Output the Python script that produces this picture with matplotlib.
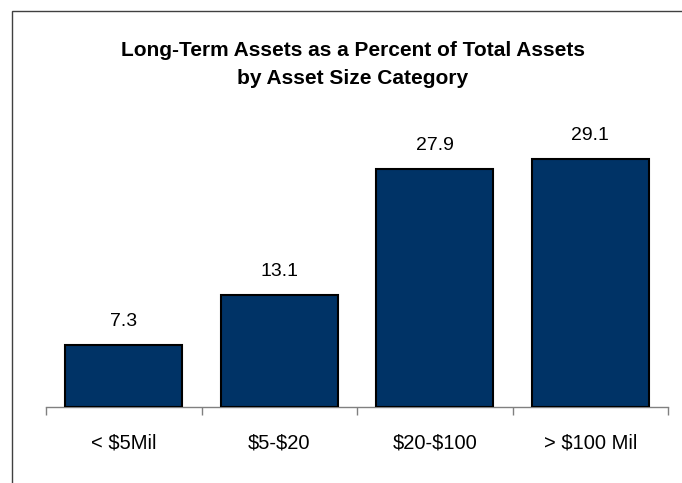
import matplotlib.pyplot as plt
from matplotlib.patches import Rectangle

plt.rcParams['font.family'] = ['Liberation Sans', 'DejaVu Sans']

categories = ['< \\$5Mil', '\\$5-\\$20', '\\$20-\\$100', '> \\$100 Mil']
values = [7.3, 13.1, 27.9, 29.1]

fig = plt.figure(figsize=(6.82, 4.83), dpi=100)
ax = fig.add_axes([46 / 682, 1 - 407 / 483, 622 / 682, 298 / 483])

x = list(range(len(categories)))
ax.bar(x, values, width=0.75, color='#003366', edgecolor='black', linewidth=1.5, zorder=3)

for xi, v in zip(x, values):
    ax.annotate(f'{v:.1f}', (xi, v), xytext=(0, 11), textcoords='offset points',
                ha='center', va='bottom', fontsize=14)

ax.set_xlim(-0.5, len(categories) - 0.5)
ax.set_ylim(0, 35)

# ticks at category boundaries, labels centred
ax.set_xticks([i - 0.5 for i in range(len(categories) + 1)])
ax.set_xticklabels([])
ax.set_xticks(x, minor=True)
ax.set_xticklabels(categories, minor=True, fontsize=14.5)
ax.tick_params(axis='x', which='major', direction='out', length=6, color='#808080', width=1)
ax.tick_params(axis='x', which='minor', length=0, pad=19)
ax.set_yticks([])

for s in ['top', 'right', 'left']:
    ax.spines[s].set_visible(False)
ax.spines['bottom'].set_color('#808080')
ax.spines['bottom'].set_linewidth(1)

fig.text(353 / 682, 1 - 50 / 483, 'Long-Term Assets as a Percent of Total Assets',
         ha='center', va='center', fontsize=15, fontweight='bold')
fig.text(353 / 682, 1 - 79 / 483, 'by Asset Size Category',
         ha='center', va='center', fontsize=15, fontweight='bold')

# chart frame (cropped on right and bottom)
fig.patches.append(Rectangle((12 / 682, -0.1), 1.2, 1 - 11 / 483 + 0.1,
                             transform=fig.transFigure, fill=False,
                             edgecolor='#404040', linewidth=1))

fig.savefig('out.png', dpi=100)
